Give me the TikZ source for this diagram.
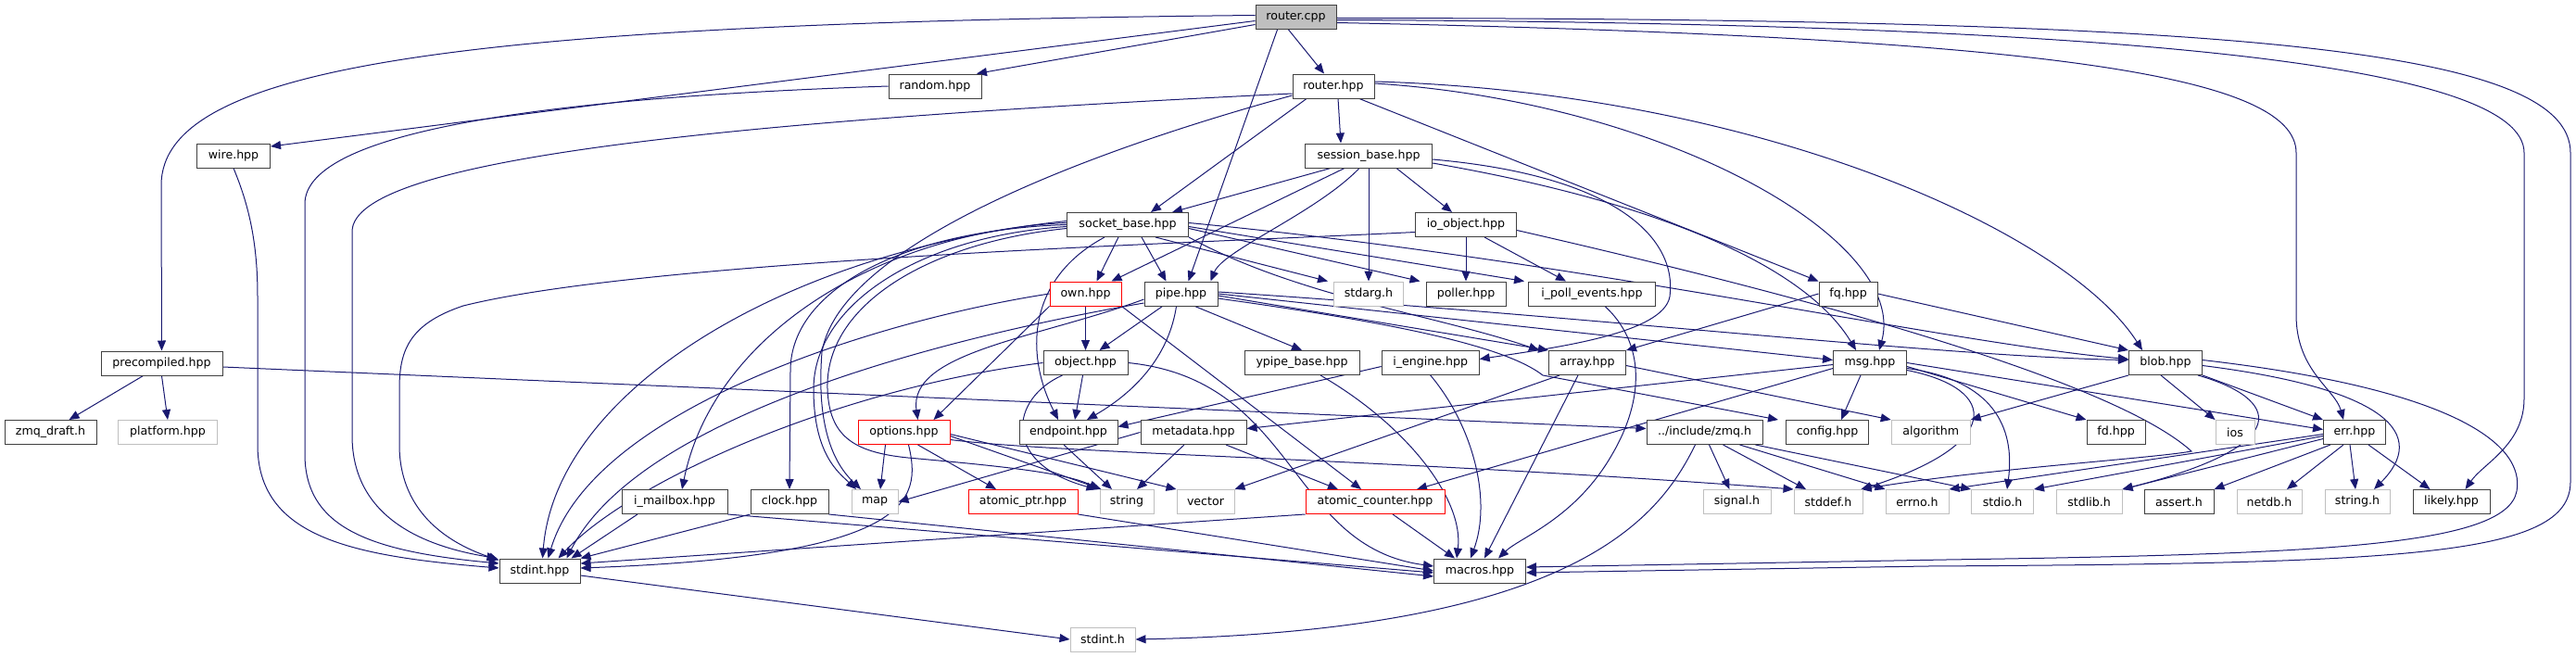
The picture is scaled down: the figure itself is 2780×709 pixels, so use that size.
\documentclass[tikz,border=0pt]{standalone}
\usepackage{fontspec}
\setmainfont{DejaVu Sans}
\usetikzlibrary{arrows.meta}
\definecolor{edgeblue}{HTML}{191970}
\definecolor{sysgray}{HTML}{BFBFBF}
\definecolor{boxline}{HTML}{404040}
\definecolor{rootfill}{HTML}{BFBFBF}
\pgfdeclarelayer{bg}
\pgfsetlayers{bg,main}
\tikzset{
 box/.style={draw=boxline, fill=white, line width=1pt, minimum height=26pt, inner sep=0pt, font=\fontsize{12.6pt}{14pt}\selectfont, text=black},
 sysbox/.style={box, draw=sysgray},
 redbox/.style={box, draw=red},
 rootbox/.style={box, fill=rootfill},
 edge/.style={draw=edgeblue, line width=1pt, -{Triangle[length=11pt,width=9pt]}},
}
\begin{document}
\begin{tikzpicture}[x=1pt,y=-1pt]
\useasboundingbox (0,0) rectangle (2780,709);
% row 0
\node[rootbox, minimum width=87pt] (rcpp) at (1398.5,18.5) {router.cpp};
% row 1
\node[box, minimum width=100pt] (random) at (1009,93) {random.hpp};
\node[box, minimum width=88pt] (rhpp) at (1439,93) {router.hpp};
% row 2
\node[box, minimum width=79pt] (wire) at (252,168) {wire.hpp};
\node[box, minimum width=137pt] (sess) at (1477,168) {session\_base.hpp};
% row 3
\node[box, minimum width=131pt] (sock) at (1217,242.5) {socket\_base.hpp};
\node[box, minimum width=109pt] (ioobj) at (1582,242.5) {io\_object.hpp};
% row 4
\node[redbox, minimum width=77pt] (own) at (1171.5,317) {own.hpp};
\node[box, minimum width=79pt] (pipe) at (1274.5,317) {pipe.hpp};
\node[sysbox, minimum width=75pt] (stdarg) at (1477,317) {stdarg.h};
\node[box, minimum width=86pt] (poller) at (1582,317) {poller.hpp};
\node[box, minimum width=137pt] (ipoll) at (1718,317) {i\_poll\_events.hpp};
\node[box, minimum width=63pt] (fq) at (1994.5,317) {fq.hpp};
% row 5
\node[box, minimum width=131pt] (pre) at (174.5,392) {precompiled.hpp};
\node[box, minimum width=91pt] (object) at (1171.5,391.5) {object.hpp};
\node[box, minimum width=124pt] (ypipe) at (1405,391.5) {ypipe\_base.hpp};
\node[box, minimum width=105pt] (iengine) at (1543.7,391.5) {i\_engine.hpp};
\node[box, minimum width=83pt] (array) at (1713,391.5) {array.hpp};
\node[box, minimum width=79pt] (msg) at (2018,391.5) {msg.hpp};
\node[box, minimum width=79pt] (blob) at (2337,391.5) {blob.hpp};
% row 6
\node[box, minimum width=99pt] (zdraft) at (54.5,466.5) {zmq\_draft.h};
\node[sysbox, minimum width=107pt] (platform) at (181,466.5) {platform.hpp};
\node[redbox, minimum width=99pt] (options) at (975.5,466.5) {options.hpp};
\node[box, minimum width=106pt] (endpoint) at (1153,466.5) {endpoint.hpp};
\node[box, minimum width=114pt] (metadata) at (1288,466.5) {metadata.hpp};
\node[box, minimum width=125pt] (zmqh) at (1839.5,466.5) {../include/zmq.h};
\node[box, minimum width=89pt] (config) at (1972,466.5) {config.hpp};
\node[sysbox, minimum width=85pt] (algorithm) at (2083.7,466.5) {algorithm};
\node[box, minimum width=63pt] (fd) at (2283.5,466.5) {fd.hpp};
\node[sysbox, minimum width=42pt] (ios) at (2412,466.5) {ios};
\node[box, minimum width=67pt] (err) at (2541,466.5) {err.hpp};
% row 7
\node[box, minimum width=114pt] (imailbox) at (728,541.5) {i\_mailbox.hpp};
\node[box, minimum width=84pt] (clock) at (852,541.5) {clock.hpp};
\node[sysbox, minimum width=50pt] (map) at (944,541.5) {map};
\node[redbox, minimum width=118pt] (aptr) at (1104,541.5) {atomic\_ptr.hpp};
\node[sysbox, minimum width=58pt] (string) at (1216,541.5) {string};
\node[sysbox, minimum width=62pt] (vector) at (1301,541.5) {vector};
\node[redbox, minimum width=150pt] (acnt) at (1484,541.5) {atomic\_counter.hpp};
\node[sysbox, minimum width=73pt] (signal) at (1874.5,541.5) {signal.h};
\node[sysbox, minimum width=74pt] (stddef) at (1973,541.5) {stddef.h};
\node[sysbox, minimum width=68pt] (errno) at (2069,541.5) {errno.h};
\node[sysbox, minimum width=67pt] (stdio) at (2161,541.5) {stdio.h};
\node[sysbox, minimum width=71pt] (stdlib) at (2254.5,541.5) {stdlib.h};
\node[box, minimum width=75pt] (assert) at (2351.5,541.5) {assert.h};
\node[sysbox, minimum width=70pt] (netdb) at (2449,541.5) {netdb.h};
\node[sysbox, minimum width=70pt] (stringh) at (2544,541.5) {string.h};
\node[box, minimum width=83pt] (likely) at (2645.5,541.5) {likely.hpp};
% row 8
\node[box, minimum width=87pt] (stdinthpp) at (582.5,616) {stdint.hpp};
\node[box, minimum width=99pt] (macros) at (1597,616) {macros.hpp};
% row 9
\node[sysbox, minimum width=70pt] (stdinth) at (1190,690) {stdint.h};

\begin{pgfonlayer}{bg}
% router.cpp
\draw[edge] ([yshift=2pt]rcpp.west) .. controls (500,25) and (174,70) .. (174,200) -- (pre.north);
\draw[edge] ([yshift=-4pt]rcpp.west) -- ([yshift=10pt]wire.east);
\draw[edge] ([yshift=-8pt]rcpp.west) -- ([xshift=45pt]random.north);
\draw[edge] ([xshift=-8pt]rcpp.south) -- ([xshift=-10pt]rhpp.north);
\draw[edge] ([xshift=-20pt]rcpp.south) -- ([xshift=8pt]pipe.north);
\draw[edge] ([yshift=-6pt]rcpp.east) .. controls (2200,40) and (2478,80) .. (2478,165) -- (2478,340) .. controls (2478,400) and (2520,420) .. ([xshift=-12pt]err.north);
\draw[edge] ([yshift=-3pt]rcpp.east) .. controls (2300,25) and (2724,70) .. (2724,165) -- (2724,430) .. controls (2724,480) and (2680,500) .. ([xshift=15pt]likely.north);
\draw[edge] ([yshift=-1pt]rcpp.east) .. controls (2400,20) and (2774,50) .. (2774,165) -- (2774,520) .. controls (2774,600) and (2600,608) .. (2080,611) -- ([yshift=-2pt]macros.east);
% to stdint.hpp from the left
\draw[edge] (wire.south) .. controls (268,220) and (278,260) .. (278,320) -- (278,480) .. controls (278,580) and (380,600) .. ([yshift=3pt]stdinthpp.west);
\draw[edge] (random.west) .. controls (600,105) and (329,140) .. (329,220) -- (329,490) .. controls (329,570) and (400,595) .. ([yshift=8pt]stdinthpp.west);
\draw[edge] ([yshift=-8pt]rhpp.west) .. controls (800,130) and (380,170) .. (380,250) -- (380,470) .. controls (380,560) and (460,590) .. ([xshift=-2pt]stdinthpp.north west);
\draw[edge] ([yshift=-8pt]ioobj.west) .. controls (1300,262) and (700,280) .. (500,330) .. controls (440,350) and (431,380) .. (431,420) -- (431,480) .. controls (431,550) and (480,585) .. ([yshift=-2pt]stdinthpp.north west);
% router.hpp
\draw[edge] ([xshift=-29pt]rhpp.south) -- ([xshift=25pt]sock.north);
\draw[edge] ([xshift=5pt]rhpp.south) -- ([xshift=-30pt]sess.north);
\draw[edge] ([yshift=-10pt]rhpp.west) .. controls (1150,170) and (905,270) .. (887,380) .. controls (880,470) and (905,505) .. ([xshift=-15pt]map.north);
\draw[edge] ([xshift=28pt]rhpp.south) -- (fq.north west);
\draw[edge] ([yshift=3pt]rhpp.east) .. controls (1800,110) and (2060,260) .. ([xshift=10pt]msg.north);
\draw[edge] ([yshift=5pt]rhpp.east) .. controls (1900,100) and (2230,250) .. ([xshift=-25pt]blob.north);
% session_base.hpp
\draw[edge] ([xshift=-41pt]sess.south) -- ([xshift=48pt]sock.north);
\draw[edge] ([xshift=-26pt]sess.south) -- ([xshift=28pt]own.north);
\draw[edge] ([xshift=-10pt]sess.south) .. controls (1420,230) and (1320,270) .. ([xshift=32pt]pipe.north);
\draw[edge] (sess.south) -- (stdarg.north);
\draw[edge] ([xshift=30pt]sess.south) -- ([xshift=-15pt]ioobj.north);
\draw[edge] ([yshift=-4pt]sess.east) .. controls (1750,190) and (1810,260) .. (1802,320) .. controls (1795,360) and (1680,375) .. ([yshift=4pt]iengine.east);
\draw[edge] ([yshift=-8pt]sess.east) .. controls (1800,220) and (1950,290) .. ([xshift=-15pt]msg.north);
% io_object.hpp
\draw[edge] (ioobj.south) -- (poller.north);
\draw[edge] ([xshift=20pt]ioobj.south) -- ([xshift=-28pt]ipoll.north);
\draw[edge] ([yshift=-6pt]ioobj.east) .. controls (1950,320) and (2280,410) .. (2365,487) .. controls (2320,495) and (2150,505) .. ([xshift=-2pt]stddef.north east);
% socket_base.hpp
\draw[edge] ([xshift=-10pt]sock.south) -- ([xshift=12pt]own.north);
\draw[edge] ([xshift=15pt]sock.south) -- ([xshift=-16pt]pipe.north);
\draw[edge] ([xshift=30pt]sock.south) -- ([xshift=-6pt]stdarg.north west);
\draw[edge] ([yshift=-4pt]sock.east) -- ([xshift=-6pt]poller.north west);
\draw[edge] ([yshift=-2pt]sock.east) -- ([xshift=-4pt]ipoll.north west);
\draw[edge] (sock.south east) .. controls (1400,320) and (1550,340) .. ([xshift=-10pt]array.north west);
\draw[edge] ([yshift=2pt]sock.east) .. controls (1700,280) and (2100,370) .. ([yshift=4pt]blob.west);
\draw[edge] ([xshift=-25pt]sock.south) .. controls (1110,300) and (1105,380) .. ([xshift=-11pt]endpoint.north);
\draw[edge] ([yshift=2pt]sock.west) .. controls (950,250) and (770,360) .. ([xshift=8pt]imailbox.north);
\draw[edge] (sock.west) .. controls (980,248) and (853,310) .. (853,400) -- (clock.north);
\draw[edge] ([yshift=-2pt]sock.west) .. controls (990,255) and (878,330) .. (878,420) .. controls (878,490) and (905,510) .. ([xshift=-20pt]map.north);
\draw[edge] ([yshift=-4pt]sock.west) .. controls (1000,262) and (890,330) .. (893,420) .. controls (895,470) and (920,488) .. (980,494) .. controls (1080,503) and (1150,510) .. (string.north west);
\draw[edge] ([yshift=4pt]sock.west) .. controls (850,270) and (600,420) .. ([xshift=3pt]stdinthpp.north);
% own.hpp
\draw[edge] (own.south) -- (object.north);
\draw[edge] (own.south west) -- ([xshift=32pt]options.north);
\draw[edge] (own.south east) -- ([xshift=-15pt]acnt.north);
\draw[edge] (own.west) .. controls (950,345) and (640,440) .. ([xshift=9pt]stdinthpp.north);
% pipe.hpp
\draw[edge] ([xshift=-20pt]pipe.south) -- ([xshift=15pt]object.north);
\draw[edge] ([xshift=15pt]pipe.south) -- (ypipe.north);
\draw[edge] ([yshift=-6pt]pipe.west) .. controls (1120,365) and (980,380) .. ([xshift=15pt]options.north);
\draw[edge] ([xshift=-5pt]pipe.south) .. controls (1262,380) and (1230,420) .. ([xshift=20pt]endpoint.north);
\draw[edge] ([yshift=-2pt]pipe.east) -- (array.north west);
\draw[edge] ([yshift=2pt]pipe.east) .. controls (1700,340) and (2100,385) .. ([yshift=3pt]blob.west);
\draw[edge] (pipe.east) -- ([yshift=3pt]msg.west);
\draw[edge] ([yshift=-5pt]pipe.east) .. controls (1480,345) and (1620,370) .. (1665,405) -- ([xshift=-8pt]config.north west);
\draw[edge] ([yshift=-10pt]pipe.west) .. controls (1100,350) and (700,430) .. ([xshift=29pt]stdinthpp.north);
% object.hpp
\draw[edge] ([xshift=-3pt]object.south) -- ([xshift=7pt]endpoint.north);
\draw[edge] ([xshift=-25pt]object.south) .. controls (1090,430) and (1080,500) .. ([xshift=-3pt]string.north west);
\draw[edge] (object.west) .. controls (900,420) and (680,520) .. ([xshift=20pt]stdinthpp.north);
\draw[edge] (object.east) .. controls (1400,410) and (1390,590) .. ([yshift=5pt]macros.west);
% ypipe, i_engine, array, i_poll_events
\draw[edge] ([xshift=20pt]ypipe.south) .. controls (1520,460) and (1580,540) .. ([xshift=-25pt]macros.north);
\draw[edge] ([yshift=-4pt]iengine.west) -- ([yshift=6pt]endpoint.east);
\draw[edge] (iengine.south) .. controls (1590,460) and (1610,540) .. ([xshift=-10pt]macros.north);
\draw[edge] ([xshift=-30pt]array.south) -- (vector.north east);
\draw[edge] ([yshift=-3pt]array.east) -- (algorithm.north west);
\draw[edge] ([xshift=-10pt]array.south) -- ([xshift=5pt]macros.north);
\draw[edge] ([xshift=14pt]ipoll.south) .. controls (1775,370) and (1775,430) .. (1740,490) .. controls (1700,560) and (1640,580) .. ([xshift=20pt]macros.north);
% msg.hpp
\draw[edge] ([yshift=-2pt]msg.west) -- ([yshift=4pt]metadata.east);
\draw[edge] ([yshift=-6pt]msg.west) -- ([xshift=45pt]acnt.north);
\draw[edge] ([xshift=-10pt]msg.south) -- ([xshift=15pt]config.north);
\draw[edge] ([yshift=-4pt]msg.east) -- (fd.north west);
\draw[edge] (msg.east) -- ([yshift=3pt]err.west);
\draw[edge] ([yshift=-8pt]msg.east) .. controls (2160,420) and (2160,480) .. ([xshift=-2pt]stddef.north east);
\draw[edge] ([yshift=-6pt]msg.east) .. controls (2150,410) and (2175,460) .. ([xshift=5pt]stdio.north);
% blob.hpp
\draw[edge] (blob.south west) -- (algorithm.north east);
\draw[edge] ([xshift=-5pt]blob.south) -- (ios.north west);
\draw[edge] (blob.south east) -- (err.north west);
\draw[edge] ([xshift=-5pt]blob.south east) .. controls (2460,430) and (2480,480) .. (stdlib.north east);
\draw[edge] ([yshift=-3pt]blob.east) .. controls (2580,420) and (2620,470) .. ([xshift=18pt]stringh.north);
\draw[edge] ([yshift=3pt]blob.east) .. controls (2650,420) and (2725,480) .. (2716,530) .. controls (2705,590) and (2500,598) .. (2100,604) -- ([yshift=4pt]macros.east);
% fq.hpp
\draw[edge] (fq.west) -- (array.north east);
\draw[edge] (fq.east) -- (blob.north west);
% precompiled.hpp
\draw[edge] ([xshift=-20pt]pre.south) -- ([xshift=20pt]zdraft.north);
\draw[edge] (pre.south) -- (platform.north);
\draw[edge] ([yshift=-4pt]pre.east) -- ([yshift=4pt]zmqh.west);
% options.hpp
\draw[edge] ([xshift=-20pt]options.south) -- ([xshift=6pt]map.north);
\draw[edge] ([xshift=15pt]options.south) -- ([xshift=-29pt]aptr.north);
\draw[edge] ([yshift=-4pt]options.east) -- ([xshift=2pt]string.north west);
\draw[edge] ([yshift=-2pt]options.east) -- (vector.north west);
\draw[edge] ([yshift=-8pt]options.east) .. controls (1150,490) and (1500,495) .. (stddef.north west);
\draw[edge] ([xshift=5pt]options.south) .. controls (995,540) and (985,600) .. ([yshift=3pt]stdinthpp.east);
% endpoint, metadata
\draw[edge] ([xshift=-5pt]endpoint.south) -- ([xshift=-16pt]string.north);
\draw[edge] (metadata.west) -- (map.east);
\draw[edge] ([xshift=-10pt]metadata.south) -- ([xshift=11pt]string.north);
\draw[edge] ([xshift=35pt]metadata.south) -- ([xshift=-40pt]acnt.north);
% zmq.h
\draw[edge] ([xshift=-10pt]zmqh.south) .. controls (1790,560) and (1700,680) .. (stdinth.east);
\draw[edge] ([xshift=5pt]zmqh.south) -- ([xshift=-8pt]signal.north);
\draw[edge] ([xshift=20pt]zmqh.south) -- ([xshift=-24pt]stddef.north);
\draw[edge] ([xshift=38pt]zmqh.south) -- (errno.north west);
\draw[edge] ([xshift=55pt]zmqh.south) -- (stdio.north west);
% err.hpp
\draw[edge] ([yshift=-2pt]err.west) -- (errno.north east);
\draw[edge] ([yshift=-4pt]err.west) -- (stdio.north east);
\draw[edge] ([yshift=-7pt]err.west) -- (stdlib.north east);
\draw[edge] ([xshift=-26pt]err.south) -- (assert.north east);
\draw[edge] ([xshift=-12pt]err.south) -- ([xshift=19pt]netdb.north);
\draw[edge] ([xshift=-5pt]err.south) -- ([xshift=-2pt]stringh.north);
\draw[edge] ([xshift=15pt]err.south) -- ([xshift=-23pt]likely.north);
% bottom rows
\draw[edge] ([xshift=-40pt]imailbox.south) -- ([xshift=34pt]stdinthpp.north);
\draw[edge] (imailbox.south east) -- ([yshift=-2pt]macros.west);
\draw[edge] (clock.south west) -- (stdinthpp.north east);
\draw[edge] (clock.south east) -- ([yshift=-6pt]macros.west);
\draw[edge] (aptr.south east) -- (macros.west);
\draw[edge] (acnt.south west) -- ([yshift=8pt]stdinthpp.east);
\draw[edge] ([xshift=19pt]acnt.south) -- ([xshift=-27pt]macros.north);
\draw[edge] ([yshift=-5pt]stdinthpp.east) -- (stdinth.west);
\end{pgfonlayer}
\end{tikzpicture}
\end{document}
